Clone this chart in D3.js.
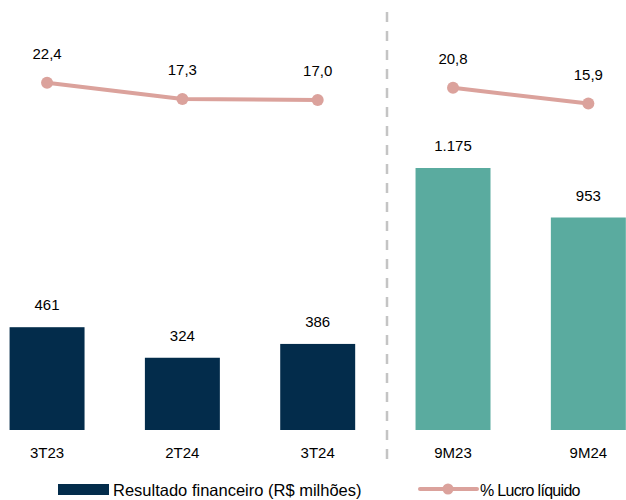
<!DOCTYPE html>
<html>
<head>
<meta charset="utf-8">
<script src="https://cdn.jsdelivr.net/npm/d3@7"></script>
<style>
	body { margin: 0; background: #fff; }
	text { font-family: "Liberation Sans", Arial, sans-serif; fill: #000; }
</style>
</head>
<body>
<svg id="chart" width="626" height="500"></svg>
<script>
var categories = ["3T23", "2T24", "3T24", "9M23", "9M24"]
var resultado = [461, 324, 386, 1175, 953]
var lucroPct = [22.4, 17.3, 17.0, 20.8, 15.9]
var lucroLabels = ["22,4", "17,3", "17,0", "20,8", "15,9"]
var resultadoLabels = ["461", "324", "386", "1.175", "953"]
var groups = ["q", "q", "q", "y", "y"]

var barColor = { q: "#032c4b", y: "#5aab9f" }
var lineColor = "#dba29c"

var svg = d3.select("#chart")

var xScale = d3.scaleBand()
	.domain(categories)
	.range([-20.6, 656])
	.paddingInner(0.446)
	.paddingOuter(0.223);

var yBar = d3.scaleLinear()
	.domain([0, 1175])
	.range([430, 168]);

var yLine = d3.scaleLinear()
	.domain([0, 22.4])
	.range([154.4, 82.7]);

var cx = function(d) { return xScale(d) + xScale.bandwidth() / 2; }

// separator between quarters and 9 months
svg.append("line")
	.attr("x1", 387).attr("x2", 387)
	.attr("y1", 12).attr("y2", 466)
	.attr("stroke", "#c4c4c4")
	.attr("stroke-width", 2.5)
	.attr("stroke-dasharray", "10,9");

// bars
svg.append("g").selectAll("rect")
	.data(categories)
	.enter().append("rect")
		.attr("x", function(d) { return xScale(d); })
		.attr("width", xScale.bandwidth())
		.attr("y", function(d, i) { return yBar(resultado[i]); })
		.attr("height", function(d, i) { return yBar(0) - yBar(resultado[i]); })
		.attr("fill", function(d, i) { return barColor[groups[i]]; });

svg.append("g").selectAll("text")
	.data(categories)
	.enter().append("text")
		.attr("x", cx)
		.attr("y", function(d, i) { return yBar(resultado[i]) - 17; })
		.attr("text-anchor", "middle")
		.style("font-size", "15px")
		.text(function(d, i) { return resultadoLabels[i]; });

// category labels
svg.append("g").selectAll("text")
	.data(categories)
	.enter().append("text")
		.attr("x", cx)
		.attr("y", 458)
		.attr("text-anchor", "middle")
		.style("font-size", "15px")
		.text(function(d) { return d; });

// line, drawn separately for each period group
var line = d3.line()
	.x(function(d) { return cx(categories[d]); })
	.y(function(d) { return yLine(lucroPct[d]); });

["q", "y"].forEach(function(grp) {
	var idx = d3.range(categories.length).filter(function(i) { return groups[i] == grp; })
	svg.append("path")
		.datum(idx)
		.attr("d", line)
		.attr("fill", "none")
		.attr("stroke", lineColor)
		.attr("stroke-width", 4);
});

svg.append("g").selectAll("circle")
	.data(categories)
	.enter().append("circle")
		.attr("cx", cx)
		.attr("cy", function(d, i) { return yLine(lucroPct[i]); })
		.attr("r", 6)
		.attr("fill", lineColor);

svg.append("g").selectAll("text")
	.data(categories)
	.enter().append("text")
		.attr("x", cx)
		.attr("y", function(d, i) { return yLine(lucroPct[i]) - 24; })
		.attr("text-anchor", "middle")
		.style("font-size", "15px")
		.text(function(d, i) { return lucroLabels[i]; });

// legend
var legend = svg.append("g")

legend.append("rect")
	.attr("x", 58).attr("y", 484)
	.attr("width", 51).attr("height", 11)
	.attr("fill", barColor.q);

legend.append("text")
	.attr("x", 113).attr("y", 496)
	.style("font-size", "16.5px")
	.text("Resultado financeiro (R$ milhões)");

legend.append("line")
	.attr("x1", 420).attr("x2", 477)
	.attr("y1", 489).attr("y2", 489)
	.attr("stroke", lineColor)
	.attr("stroke-width", 4)
	.attr("stroke-linecap", "round");

legend.append("circle")
	.attr("cx", 448).attr("cy", 489)
	.attr("r", 5.5)
	.attr("fill", lineColor);

legend.append("text")
	.attr("x", 480).attr("y", 496)
	.style("font-size", "16px")
	.style("letter-spacing", "-0.7px")
	.text("% Lucro líquido");
</script>
</body>
</html>
